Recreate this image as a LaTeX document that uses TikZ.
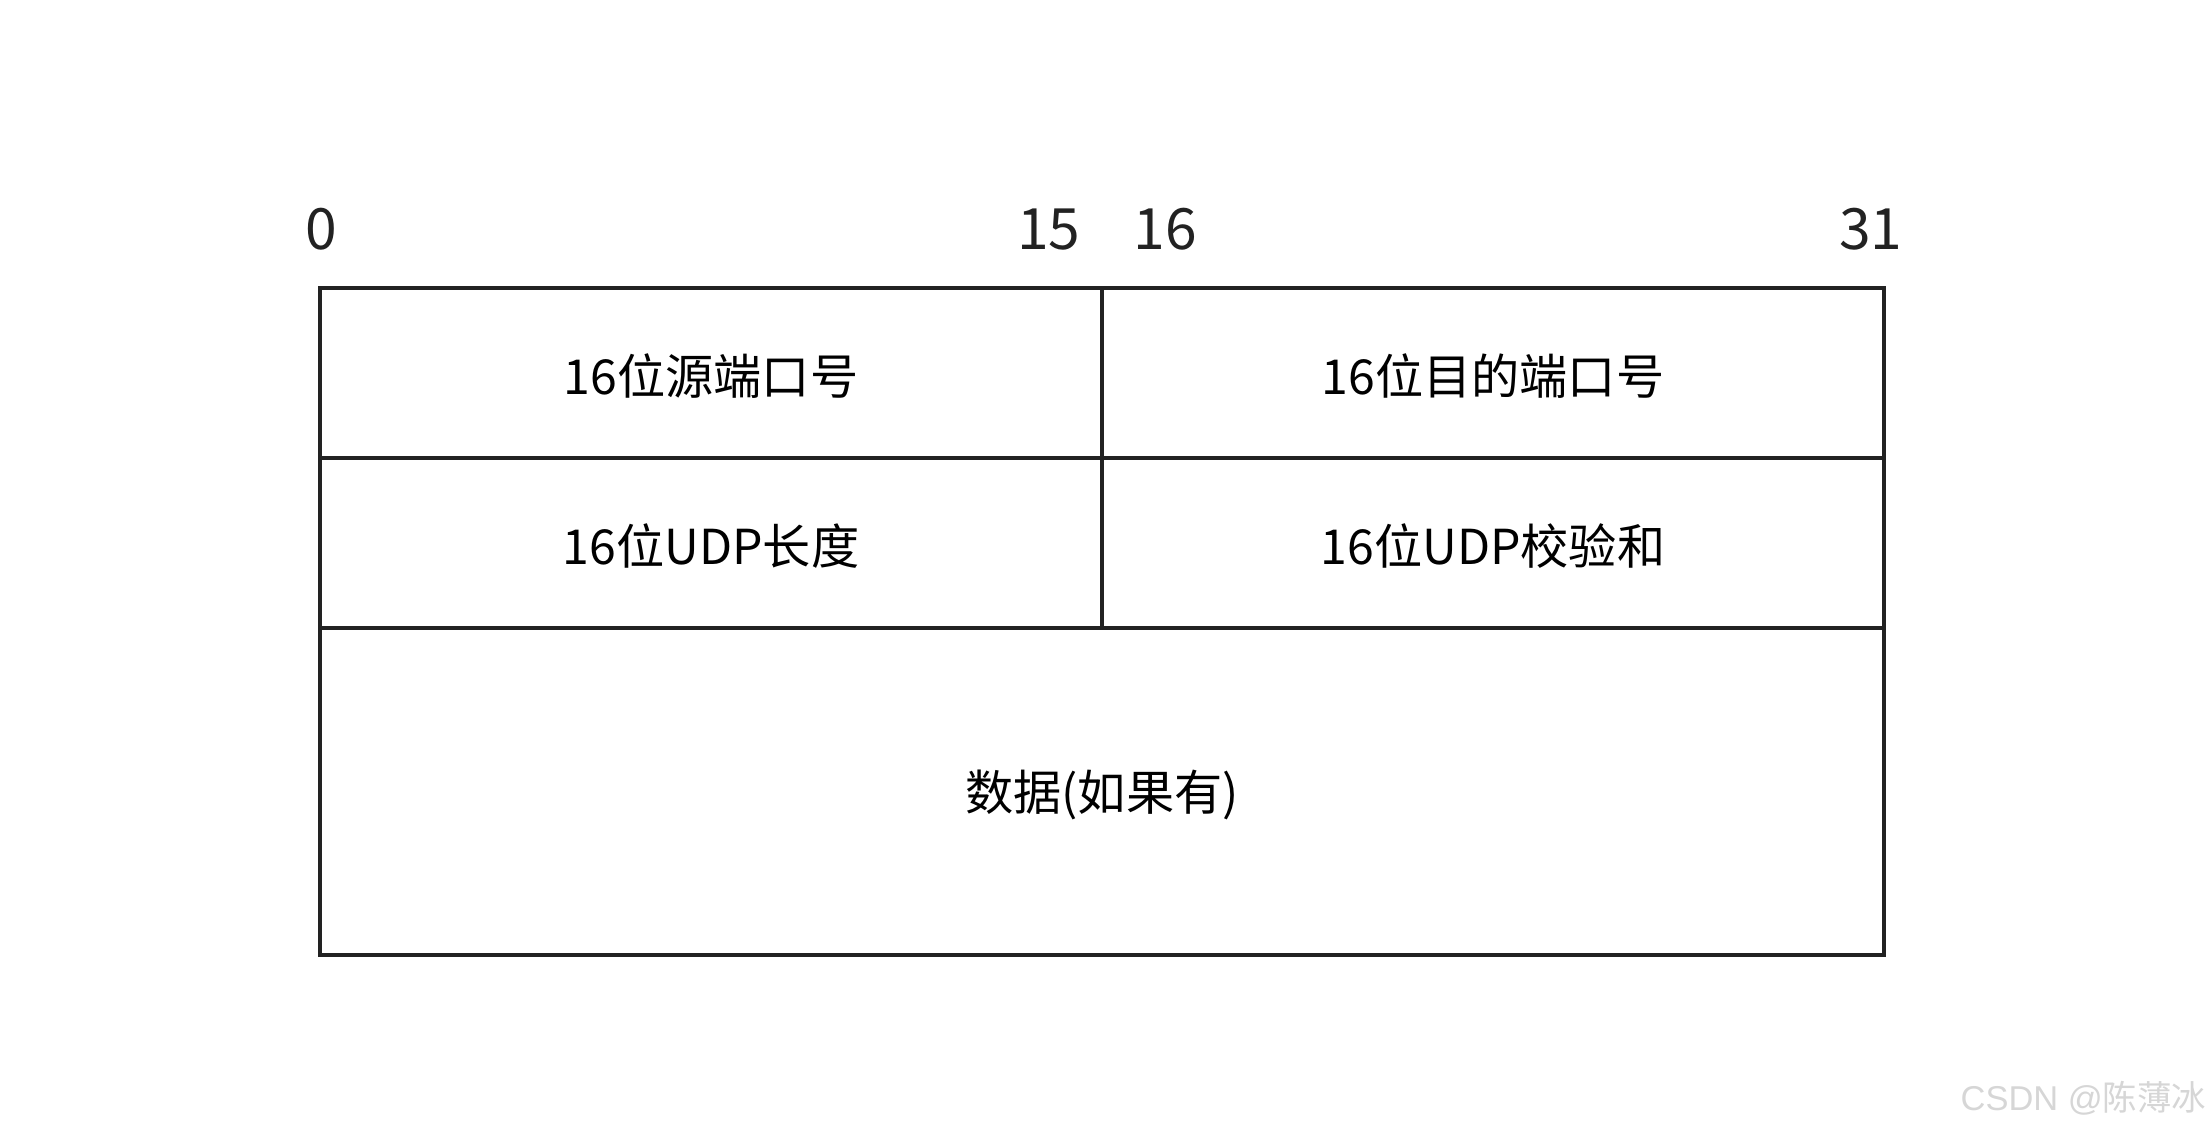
\documentclass[tikz,border=0pt]{standalone}
\usepackage{fontspec}
\setmainfont{Noto Sans CJK SC}
\newfontfamily\wmlatin{Liberation Sans}
\definecolor{udpline}{RGB}{34,34,34}
\definecolor{udpmark}{RGB}{214,214,214}

\begin{document}
\begin{tikzpicture}[
    x=0.01cm, y=-0.01cm,
    frame/.style={draw=udpline, line width=1.3pt, line cap=rect, line join=miter},
    bit/.style={font=\fontsize{16.2}{18}\selectfont, text=udpline, inner sep=0pt, anchor=base},
    field/.style={font=\fontsize{13.7}{16}\selectfont, text=black, inner sep=0pt},
  ]
  \useasboundingbox (0,0) rectangle (2212,1137);

  %% ---------------- corners of the header ----------------
  \coordinate (tl) at (320,288);
  \coordinate (tr) at (1884,288);
  \coordinate (tm) at (1102,288);
  \coordinate (ml) at (320,458);
  \coordinate (mr) at (1884,458);
  \coordinate (ll) at (320,628);
  \coordinate (lr) at (1884,628);
  \coordinate (lm) at (1102,628);
  \coordinate (bl) at (320,955);
  \coordinate (br) at (1884,955);

  %% ---------------- frame ----------------
  \draw[frame] (tl) -- (tr) -- (br) -- (bl) -- cycle;
  \draw[frame] (ml) -- (mr);
  \draw[frame] (ll) -- (lr);
  \draw[frame] (tm) -- (lm);

  %% ---------------- bit numbers ----------------
  \node[bit] (b0) at (321,250) {0};
  \node[bit, anchor=base east] (b15) at (1081,250) {15};
  \node[bit, anchor=base west] (b16) at (1133,250) {16};
  \node[bit, anchor=base east] (b31) at (1903,250) {31};

  %% ---------------- fields ----------------
  \node[field] (src) at (711,376) {16位源端口号};
  \node[field] (dst) at (1493,376) {16位目的端口号};
  \node[field] (len) at (711,546) {16位UDP长度};
  \node[field] (sum) at (1493,546) {16位UDP校验和};
  \node[field] (data) at (1102,795) {数据(如果有)};

  %% ---------------- watermark ----------------
  \node[anchor=base east, inner sep=0pt, text=udpmark, font=\fontsize{9.8}{11}\selectfont]
    (mark) at (2207,1110) {{\wmlatin CSDN @}陈薄冰};

\end{tikzpicture}
\end{document}
